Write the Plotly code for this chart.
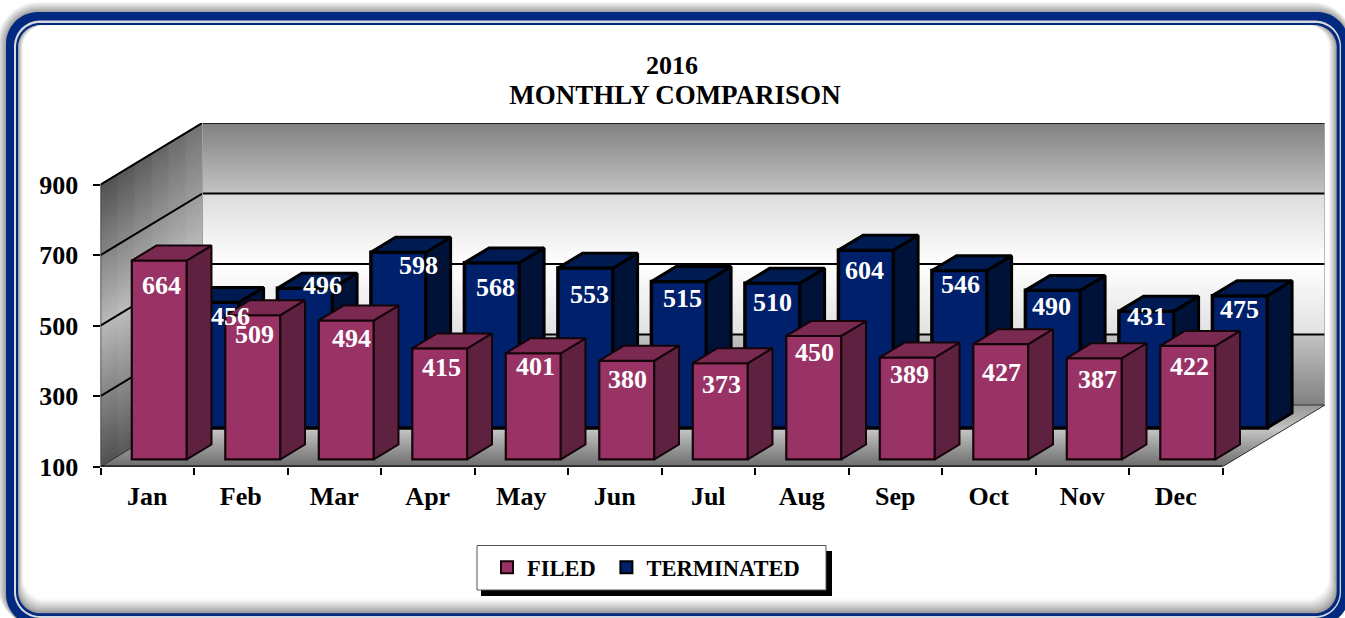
import plotly.graph_objects as go

months = ["Jan", "Feb", "Mar", "Apr", "May", "Jun", "Jul", "Aug", "Sep", "Oct", "Nov", "Dec"]
filed = [664, 509, 494, 415, 401, 380, 373, 450, 389, 427, 387, 422]
terminated = [456, 496, 598, 568, 553, 515, 510, 604, 546, 490, 431, 475]
value_ticks = [100, 300, 500, 700, 900]
title_lines = ["2016", "MONTHLY COMPARISON"]

# hand placement of the data labels (pixels from bar-top centre)
filed_label_dx = [2, 2, 5, 2, 2, 1, 1, 1, 2, 1, 3, 2]
filed_label_dy = [25, 19, 18, 19, 13, 19, 21, 17, 17, 28, 21, 21]
term_label_dx = [19, 18, 20, 4, 4, 4, 0, -1, 1, -1, 0, 0]
term_label_dy = [14, -3, 13, 25, 26, 17, 19, 20, 14, 16, 5, 14]

W, H = 1345, 618
X0_PX, X_END_PX, UNIT_PX = 100.5, 1325.0, 93.5
Y0_PX, Y_TOP_PX, V_PX = 466.7, 123.0, 0.3527
X_MAX = (X_END_PX - X0_PX) / UNIT_PX
V_MAX = 100 + (Y0_PX - Y_TOP_PX) / V_PX
DEPTH_X = 102 / UNIT_PX          # x units for the whole floor depth
DEPTH_V = 61.7 / V_PX            # value units for the whole floor depth
BAR_W = 55 / UNIT_PX
BAR_D = 0.242
FILED_D = 0.118
TERM_D = 0.629

FONT = "Liberation Serif"
MAROON, MAROON_SIDE, MAROON_TOP = "#993366", "#5f2140", "#7a2a50"
NAVY, NAVY_SIDE, NAVY_TOP = "#00206b", "#001238", "#001a52"
BLUE = "#00297f"


def fx(px):
    return px / W


def fy(py):
    return 1 - py / H


def hexc(g):
    g = int(round(g))
    return f"#{g:02x}{g:02x}{g:02x}"


def stops(t, table):
    for (a, ca), (b, cb) in zip(table, table[1:]):
        if a <= t <= b:
            return ca + (cb - ca) * (t - a) / (b - a)
    return table[-1][1]


def rr_path(x0, y0, x1, y1, r):
    k = r * 0.4477
    X0, X1, Y0, Y1 = x0, x1, y0, y1
    pts = [
        f"M{fx(X0 + r)},{fy(Y0)}", f"L{fx(X1 - r)},{fy(Y0)}",
        f"C{fx(X1 - k)},{fy(Y0)} {fx(X1)},{fy(Y0 + k)} {fx(X1)},{fy(Y0 + r)}",
        f"L{fx(X1)},{fy(Y1 - r)}",
        f"C{fx(X1)},{fy(Y1 - k)} {fx(X1 - k)},{fy(Y1)} {fx(X1 - r)},{fy(Y1)}",
        f"L{fx(X0 + r)},{fy(Y1)}",
        f"C{fx(X0 + k)},{fy(Y1)} {fx(X0)},{fy(Y1 - k)} {fx(X0)},{fy(Y1 - r)}",
        f"L{fx(X0)},{fy(Y0 + r)}",
        f"C{fx(X0)},{fy(Y0 + k)} {fx(X0 + k)},{fy(Y0)} {fx(X0 + r)},{fy(Y0)}Z",
    ]
    return " ".join(pts)


def frame_shape(x0, y0, x1, y1, r, color):
    return dict(type="path", xref="paper", yref="paper", layer="below", path=rr_path(x0, y0, x1, y1, r),
                fillcolor=color, line=dict(width=0))


shapes = []
# soft outer shadow
for i in range(11, 0, -1):
    g = 255 - (11 - i) * 9
    shapes.append(frame_shape(6 - i * 0.9, 12 - i, 1349 + i * 0.5, 626, 32 + i, hexc(g)))
shapes.append(frame_shape(6, 12, 1349, 626, 32, BLUE))
shapes.append(frame_shape(14, 20.5, 1341, 618, 26, "#d8d8de"))
shapes.append(frame_shape(16, 23, 1339.7, 616, 24, BLUE))
# inner shadow: heavy along the bottom, light on the sides
steps = 14
for i in range(steps + 1):
    t = i / steps
    shapes.append(frame_shape(18 + 5 * t, 25.3, 1336.7 - 8 * t, 613.3 - 14 * t, 22, hexc(150 + 105 * t ** 0.8)))

# back wall bands (each slice runs on under the next so no seams show)
back_table = [(0.0, 128), (0.25, 196), (0.2501, 220), (0.5, 255), (0.75, 225), (0.7501, 196), (1.0, 128)]
n = 140
span = 800
top_v = 900 + DEPTH_V
for i in range(n):
    a, b = i / n, (i + 1) / n
    g = stops((a + b) / 2, back_table)
    shapes.append(dict(type="rect", xref="x", yref="y", layer="below",
                       x0=DEPTH_X, x1=X_MAX, y1=top_v - a * span, y0=max(top_v - span, top_v - (b + 2 / n) * span),
                       fillcolor=hexc(g), line=dict(width=0)))

# left wall cells
left_table = [(0.0, 78), (0.5, 184), (1.0, 78)]
nv, nd = 50, 6
for i in range(nv):
    for j in range(nd):
        v0, v1 = 100 + span * i / nv, min(900, 100 + span * (i + 2) / nv)
        d0, d1 = j / nd, min(1, (j + 2) / nd)
        tv = (i + 0.5) / nv
        tt = (tv - 0.5) * (1 - 0.25 * (j + 0.5) / nd) + 0.5
        g = stops(tt, left_table) + 14 * (j + 0.5) / nd
        path = (f"M{d0 * DEPTH_X},{v0 + d0 * DEPTH_V} L{d1 * DEPTH_X},{v0 + d1 * DEPTH_V} "
                f"L{d1 * DEPTH_X},{v1 + d1 * DEPTH_V} L{d0 * DEPTH_X},{v1 + d0 * DEPTH_V} Z")
        shapes.append(dict(type="path", xref="x", yref="y", layer="below", path=path,
                           fillcolor=hexc(g), line=dict(width=0)))

# floor slices
floor_table = [(0.0, 108), (0.6, 196), (1.0, 150)]
nf = 31
for i in range(nf):
    d0, d1 = i / nf, min(1, (i + 2) / nf)
    g = stops((i + 0.5) / nf, floor_table)
    path = (f"M{d0 * DEPTH_X},{100 + d0 * DEPTH_V} L{12 + d0 * DEPTH_X},{100 + d0 * DEPTH_V} "
            f"L{12 + d1 * DEPTH_X},{100 + d1 * DEPTH_V} L{d1 * DEPTH_X},{100 + d1 * DEPTH_V} Z")
    shapes.append(dict(type="path", xref="x", yref="y", layer="below", path=path,
                       fillcolor=hexc(g), line=dict(width=0)))

# legend box and its drop shadow
shapes.append(dict(type="rect", xref="paper", yref="paper", layer="below",
                   x0=fx(481), x1=fx(832), y0=fy(596), y1=fy(551), fillcolor="#000000", line=dict(width=0)))
shapes.append(dict(type="rect", xref="paper", yref="paper", layer="below",
                   x0=fx(477), x1=fx(826), y0=fy(590), y1=fy(545.5), fillcolor="#ffffff", line=dict(width=1, color="#555555")))

fig = go.Figure()


def centres(depth):
    return [i + 0.5 + depth * DEPTH_X for i in range(len(months))]


def faces(values, depth):
    side_x, side_y, top_x, top_y = [], [], [], []
    base = 100 + depth * DEPTH_V
    dx, dv = BAR_D * DEPTH_X, BAR_D * DEPTH_V
    for c, v in zip(centres(depth), values):
        l, r = c - BAR_W / 2, c + BAR_W / 2
        t = v + depth * DEPTH_V
        side_x += [r, r + dx, r + dx, r, r, None]
        side_y += [t, t + dv, base + dv, base, t, None]
        top_x += [l, r, r + dx, l + dx, l, None]
        top_y += [t, t, t + dv, t + dv, t, None]
    return side_x, side_y, top_x, top_y


# wall and floor lines
gx, gy = [], []
for v in value_ticks[1:]:
    gx += [0, DEPTH_X, X_MAX, None]
    gy += [v, v + DEPTH_V, v + DEPTH_V, None]
fig.add_trace(go.Scatter(x=gx, y=gy, mode="lines", line=dict(color="#000000", width=2), showlegend=False,
                         hoverinfo="skip", cliponaxis=False, zorder=0))
fig.add_trace(go.Scatter(x=[0, DEPTH_X, X_MAX, 12, None], y=[100, 100 + DEPTH_V, 100 + DEPTH_V, 100, None], mode="lines",
                         line=dict(color="#303030", width=1), showlegend=False, hoverinfo="skip", cliponaxis=False, zorder=0))
fig.add_trace(go.Scatter(x=[X_MAX, X_MAX], y=[100 + DEPTH_V, 900 + DEPTH_V], mode="lines",
                         line=dict(color="#a8a8a8", width=1.5), showlegend=False, hoverinfo="skip", cliponaxis=False, zorder=0))
fig.add_trace(go.Scatter(x=[DEPTH_X, DEPTH_X], y=[100 + DEPTH_V, 900 + DEPTH_V], mode="lines",
                         line=dict(color="#a0a0a0", width=1), showlegend=False, hoverinfo="skip", cliponaxis=False, zorder=0))

# terminated (behind)
fig.add_trace(go.Bar(x=centres(TERM_D), y=[v - 100 for v in terminated], base=100 + TERM_D * DEPTH_V, width=BAR_W,
                     name="TERMINATED", marker=dict(color=NAVY, line=dict(color="#000000", width=3.5)), zorder=1, hoverinfo="skip"))
sx, sy, tx, ty = faces(terminated, TERM_D)
fig.add_trace(go.Scatter(x=sx, y=sy, fill="toself", fillcolor=NAVY_SIDE, mode="lines", line=dict(color="#000000", width=3),
                         showlegend=False, hoverinfo="skip", zorder=2))
fig.add_trace(go.Scatter(x=tx, y=ty, fill="toself", fillcolor=NAVY_TOP, mode="lines", line=dict(color="#000000", width=3),
                         showlegend=False, hoverinfo="skip", zorder=2))

# filed (in front)
fig.add_trace(go.Bar(x=centres(FILED_D), y=[v - 100 for v in filed], base=100 + FILED_D * DEPTH_V, width=BAR_W,
                     name="FILED\u00a0", marker=dict(color=MAROON, line=dict(color="#140409", width=2.2)), zorder=3, hoverinfo="skip"))
sx, sy, tx, ty = faces(filed, FILED_D)
fig.add_trace(go.Scatter(x=sx, y=sy, fill="toself", fillcolor=MAROON_SIDE, mode="lines", line=dict(color="#140409", width=2),
                         showlegend=False, hoverinfo="skip", zorder=4))
fig.add_trace(go.Scatter(x=tx, y=ty, fill="toself", fillcolor=MAROON_TOP, mode="lines", line=dict(color="#140409", width=2),
                         showlegend=False, hoverinfo="skip", zorder=4))

# axis lines
fig.add_trace(go.Scatter(x=[0, 12], y=[100, 100], mode="lines", line=dict(color="#000000", width=2.5), showlegend=False,
                         hoverinfo="skip", cliponaxis=False, zorder=5))
fig.add_trace(go.Scatter(x=[0, 0], y=[100, 900], mode="lines", line=dict(color="#404040", width=1.5), showlegend=False,
                         hoverinfo="skip", cliponaxis=False, zorder=5))

annotations = []
for values, depth, dxs, dys in [(terminated, TERM_D, term_label_dx, term_label_dy), (filed, FILED_D, filed_label_dx, filed_label_dy)]:
    for c, v, dx, dy in zip(centres(depth), values, dxs, dys):
        annotations.append(dict(x=c, y=v + depth * DEPTH_V, xref="x", yref="y", text=str(v), showarrow=False,
                                xshift=dx, yshift=-dy, xanchor="center", yanchor="middle",
                                font=dict(family=FONT, size=26, color="#ffffff", weight="bold")))
annotations.append(dict(x=fx(672), y=fy(65), xref="paper", yref="paper", text=title_lines[0], showarrow=False,
                        xanchor="center", yanchor="middle", font=dict(family=FONT, size=26, color="#000000", weight="bold")))

fig.update_layout(
    width=W, height=H, autosize=False,
    margin=dict(l=0, r=0, t=0, b=0, autoexpand=False),
    paper_bgcolor="#ffffff", plot_bgcolor="rgba(0,0,0,0)",
    barmode="overlay",
    title=dict(text=title_lines[1], x=fx(675), xanchor="center", xref="paper", y=fy(95), yanchor="middle", yref="paper",
               font=dict(family=FONT, size=27, color="#000000", weight="bold")),
    xaxis=dict(domain=[fx(X0_PX), fx(X_END_PX)], range=[0, X_MAX], showgrid=False, zeroline=False, showline=False,
               tickmode="array", tickvals=[i + 0.5 for i in range(12)], ticktext=months, ticks="", ticklabelstandoff=11,
               tickfont=dict(family=FONT, size=26, color="#000000", weight="bold"),
               minor=dict(tickmode="array", tickvals=list(range(13)), ticks="outside", ticklen=7, tickwidth=1.5, tickcolor="#000000", showgrid=False)),
    yaxis=dict(domain=[fy(Y0_PX), fy(Y_TOP_PX)], range=[100, V_MAX], showgrid=False, zeroline=False, showline=False,
               tickmode="array", tickvals=value_ticks, ticks="outside", ticklen=7, tickwidth=1.5, tickcolor="#000000", ticklabelstandoff=9,
               tickfont=dict(family=FONT, size=26, color="#000000", weight="bold")),
    legend=dict(x=fx(487), y=fy(546), xanchor="left", yanchor="top", orientation="h", traceorder="reversed",
                bgcolor="rgba(0,0,0,0)", borderwidth=0, itemsizing="constant",
                font=dict(family=FONT, size=22.5, color="#000000", weight="bold")),
    shapes=shapes, annotations=annotations,
)

fig.write_html("out.html", config={"displayModeBar": False},
               post_script="document.body.style.margin='0';document.documentElement.style.overflow='hidden';")
